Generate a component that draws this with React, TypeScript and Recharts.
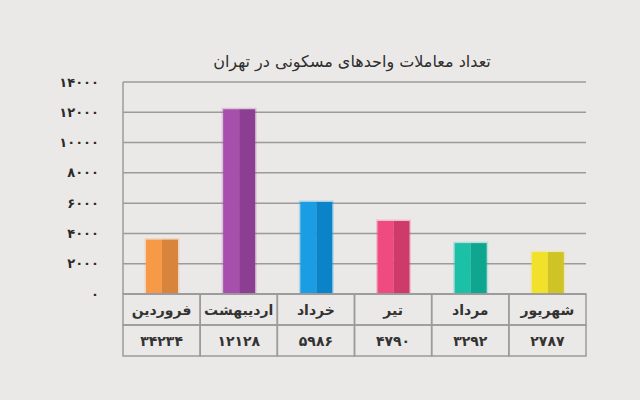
import React from "react";
import { BarChart, Bar, XAxis, YAxis, CartesianGrid } from "recharts";

const categories = ["فروردین", "اردیبهشت", "خرداد", "تیر", "مرداد", "شهریور"];
const barValues = [3590, 12200, 6080, 4820, 3360, 2770];
const tableValues = [34234, 12128, 5986, 4790, 3292, 2787];
const yTicks = [0, 2000, 4000, 6000, 8000, 10000, 12000, 14000];
const lightColors = ["#F69A48", "#A74FAC", "#1A9DE2", "#EF4A82", "#1CC0A6", "#F2E12C"];
const darkColors = ["#D9843C", "#8C3E92", "#0A83C9", "#CE3B6B", "#0FA68F", "#CFC425"];
const title = "تعداد معاملات واحدهای مسکونی در تهران";

const faDigits = "۰۱۲۳۴۵۶۷۸۹";
const toFa = (n: number) => String(n).replace(/[0-9]/g, (d) => faDigits[Number(d)]);

const data = categories.map((name, i) => ({ name, value: barValues[i], label: tableValues[i], i }));

const FONT = "'DejaVu Sans', sans-serif";
const GRID = "#9b9b9b";

const BarShape = (props: any) => {
  const { x, y, width, height, payload } = props;
  const i = payload.i;
  const half = width / 2;
  return (
    <g>
      <rect x={x - 1.5} y={y - 1.5} width={width + 3} height={height + 1.5} fill={lightColors[i]} opacity={0.25} />
      <rect x={x} y={y} width={half} height={height} fill={lightColors[i]} />
      <rect x={x + half} y={y} width={width - half} height={height} fill={darkColors[i]} />
    </g>
  );
};

const XTick = (props: any) => {
  const { x, y, payload, index, width } = props;
  const slot = width / categories.length;
  const left = x - slot / 2;
  return (
    <g>
      <rect x={left} y={y} width={slot} height={31} fill="none" stroke={GRID} strokeWidth={1.5} />
      <rect x={left} y={y + 31} width={slot} height={31} fill="none" stroke={GRID} strokeWidth={1.5} />
      <text x={x} y={y + 16} textAnchor="middle" dominantBaseline="central" fontFamily={FONT} fontSize={14} fontWeight="bold" fill="#333" direction="rtl">
        {payload.value}
      </text>
      <text x={x} y={y + 47} textAnchor="middle" dominantBaseline="central" fontFamily={FONT} fontSize={14} fontWeight="bold" fill="#333">
        {toFa(tableValues[index])}
      </text>
    </g>
  );
};

const YTick = (props: any) => {
  const { y, payload } = props;
  return (
    <text x={99} y={y} textAnchor="end" dominantBaseline="central" fontFamily={FONT} fontSize={13} fontWeight="bold" fill="#2a2a2a">
      {toFa(payload.value)}
    </text>
  );
};

export default function App() {
  return (
    <div style={{ position: "absolute", left: 0, top: 0, width: 640, height: 400, background: "#EBE9E7", overflow: "hidden" }}>
      <div
        style={{
          position: "absolute",
          left: 0,
          width: 704,
          top: 50,
          textAlign: "center",
          direction: "rtl",
          fontFamily: FONT,
          fontSize: 16,
          color: "#2e2e2e",
          lineHeight: "24px",
        }}
      >
        {title}
      </div>
      <BarChart width={640} height={400} data={data} margin={{ top: 82, right: 54, bottom: 44, left: 0 }} barSize={32}>
        <CartesianGrid vertical={false} stroke={GRID} strokeWidth={1.5} yAxisId="l" />
        <XAxis
          dataKey="name"
          height={62}
          interval={0}
          tickLine={false}
          tickSize={0}
          tickMargin={0}
          axisLine={{ stroke: GRID, strokeWidth: 1.5 }}
          tick={<XTick />}
        />
        <YAxis
          yAxisId="l"
          width={123}
          domain={[0, 14000]}
          ticks={yTicks}
          interval={0}
          tickLine={false}
          axisLine={{ stroke: GRID, strokeWidth: 1.5 }}
          tick={<YTick />}
        />
        <YAxis
          yAxisId="r"
          orientation="right"
          width={0}
          domain={[0, 14000]}
          tick={false}
          tickLine={false}
          axisLine={{ stroke: GRID, strokeWidth: 1.5 }}
        />
        <Bar yAxisId="l" dataKey="value" isAnimationActive={false} shape={<BarShape />} />
      </BarChart>
    </div>
  );
}
